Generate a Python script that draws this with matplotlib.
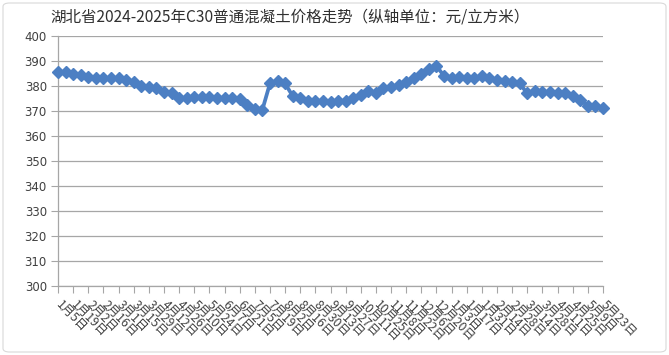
import matplotlib
matplotlib.use('Agg')
import matplotlib.pyplot as plt
from matplotlib.patches import FancyBboxPatch

plt.rcParams['font.family'] = ['Noto Sans CJK SC', 'DejaVu Sans']

title = "湖北省2024-2025年C30普通混凝土价格走势（纵轴单位：元/立方米）"

dates = [
    "1月5日", "1月12日", "1月19日", "1月26日", "2月2日", "2月9日", "2月16日", "2月23日",
    "3月1日", "3月8日", "3月15日", "3月22日", "3月29日", "4月5日", "4月12日", "4月19日",
    "4月26日", "5月3日", "5月10日", "5月17日", "5月24日", "5月31日", "6月7日", "6月14日",
    "6月21日", "6月28日", "7月5日", "7月12日", "7月19日", "7月26日", "8月2日", "8月9日",
    "8月16日", "8月23日", "8月30日", "9月6日", "9月13日", "9月20日", "9月27日", "10月4日",
    "10月11日", "10月18日", "10月25日", "11月1日", "11月8日", "11月15日", "11月22日", "11月29日",
    "12月6日", "12月13日", "12月20日", "12月27日",
    "1月3日", "1月10日", "1月17日", "1月24日", "1月31日", "2月7日", "2月14日", "2月21日",
    "2月28日", "3月7日", "3月14日", "3月21日", "3月28日", "4月4日", "4月11日", "4月18日",
    "4月25日", "5月2日", "5月9日", "5月16日", "5月23日",
]

prices = [
    385.5, 385.5, 385.0, 384.3, 383.5, 383.0, 383.0, 383.2, 383.0, 382.5,
    381.5, 380.0, 379.5, 379.0, 377.5, 377.0, 375.2, 375.0, 375.5, 375.5,
    375.5, 375.3, 375.0, 375.0, 374.8, 372.5, 370.8, 370.5, 381.0, 382.0,
    381.0, 376.0, 375.0, 374.0, 373.8, 373.8, 373.5, 373.8, 374.0, 375.2,
    376.5, 377.8, 377.0, 379.0, 379.5, 380.5, 381.5, 383.0, 385.0, 387.0,
    388.0, 384.0, 383.3, 383.5, 383.2, 383.3, 383.8, 383.3, 382.5, 382.0,
    381.5, 381.0, 377.0, 377.8, 377.5, 377.5, 377.0, 377.2, 376.0, 374.5,
    372.0, 372.0, 371.2,
]

y_ticks = [300, 310, 320, 330, 340, 350, 360, 370, 380, 390, 400]

W, H = 669, 355
fig = plt.figure(figsize=(W / 100, H / 100), dpi=100)
fig.patch.set_facecolor('white')

border = FancyBboxPatch((3 / W, 3 / H), 1 - 6 / W, 1 - 6 / H,
                        boxstyle="round,pad=0,rounding_size=0.01",
                        transform=fig.transFigure, fill=False,
                        edgecolor='#D9D9D9', linewidth=0.8)
fig.patches.append(border)

ax = fig.add_axes([58 / W, 1 - 286 / H, (603 - 58) / W, (286 - 36) / H])

x = list(range(len(prices)))
ax.plot(x, prices, color='#4C7FC3', linewidth=2.7, marker='D', markersize=6.2,
        markeredgecolor='#4C7FC3', markerfacecolor='#4C7FC3', clip_on=False, zorder=3)

ax.set_xlim(0, len(prices) - 1)
ax.set_ylim(300, 400)
ax.set_yticks(y_ticks)
ax.set_yticklabels([str(v) for v in y_ticks], fontsize=8.5, color='#404040',
                   family=['DejaVu Sans'])
ax.yaxis.grid(True, color='#A6A6A6', linewidth=0.9)
ax.set_axisbelow(True)

tick_pos = x[::2]
ax.set_xticks(tick_pos)
ax.set_xticklabels([dates[i] for i in tick_pos], fontsize=8.8, color='#404040',
                   rotation=-45, ha='left', va='center', rotation_mode='anchor')
ax.tick_params(axis='x', length=5, width=0.8, color='#A6A6A6', pad=7)
ax.tick_params(axis='y', length=5, width=0.8, color='#A6A6A6', pad=3)

for s in ['top', 'right']:
    ax.spines[s].set_visible(False)
for s in ['left', 'bottom']:
    ax.spines[s].set_color('#A6A6A6')
    ax.spines[s].set_linewidth(0.9)

fig.text(50 / W, 1 - 17 / H, title, fontsize=11.2, color='#303030',
         ha='left', va='center')

fig.savefig('out.png', dpi=100, facecolor='white')
